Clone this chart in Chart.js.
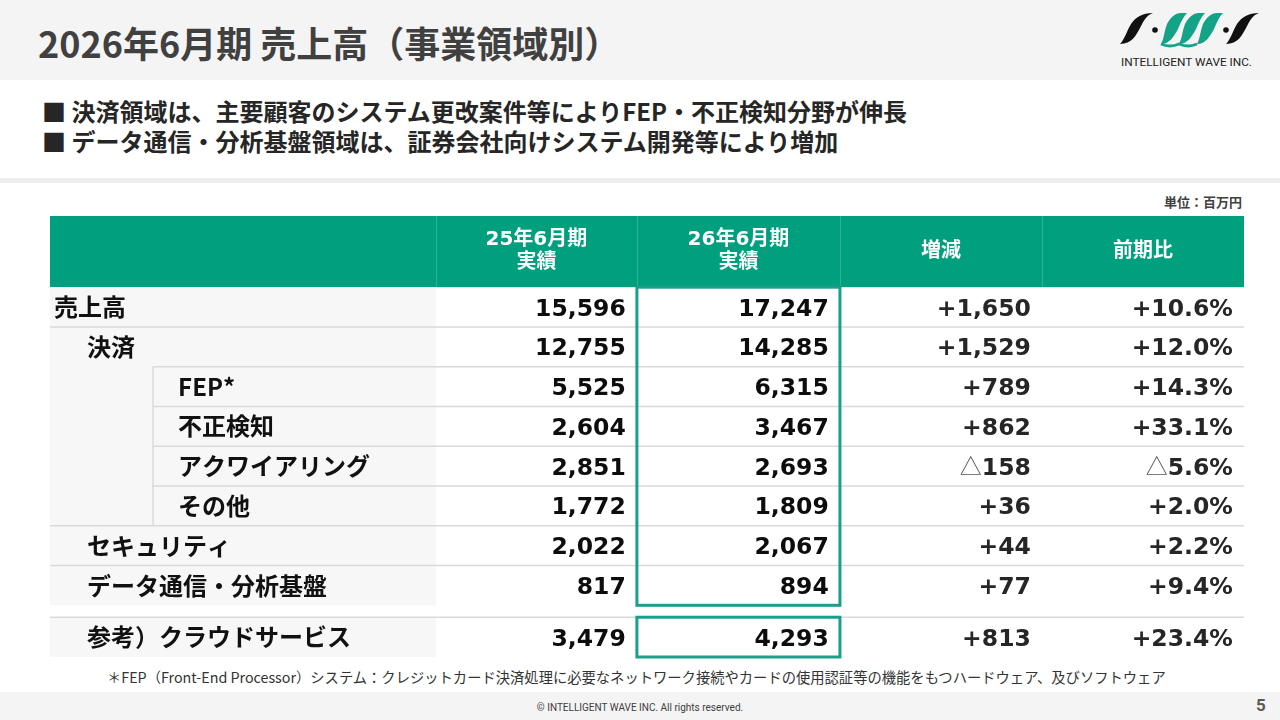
<!DOCTYPE html>
<html lang="ja">
<head>
<meta charset="utf-8">
<title>2026年6月期 売上高（事業領域別）</title>
<script src="https://cdn.jsdelivr.net/npm/chart.js@4.4.1/dist/chart.umd.min.js"></script>
<style>
    html, body { margin: 0; padding: 0; }
    body {
        width: 1280px; height: 720px; overflow: hidden; position: relative;
        background: #fff; font-family: "Noto Sans CJK JP", "Noto Sans", sans-serif;
    }
    .barra-titulo { position: absolute; left: 0; top: 0; width: 1280px; height: 80px; background: #f4f4f4; }
    .titulo { position: absolute; left: 38px; top: 20px; font-size: 36px; font-weight: bold; color: #404040; line-height: 44px; white-space: nowrap; }
    .logo { position: absolute; left: 1115px; top: 5px; width: 145px; height: 65px; }
    .puntos { position: absolute; left: 42px; top: 96px; font-size: 24px; font-weight: bold; color: #262626; line-height: 30px; white-space: nowrap; }
    .franja { position: absolute; left: 0; top: 178px; width: 1280px; height: 5px; background: #eeeeee; }
    .unidad { position: absolute; right: 38px; top: 193px; font-size: 13px; font-weight: bold; color: #404040; line-height: 18px; }
    .tabla-wrap { position: absolute; left: 44px; top: 210px; width: 1206px; height: 454px; }
    .nota { position: absolute; left: 107px; top: 667px; font-size: 14.3px; color: #333; line-height: 20px; white-space: nowrap; }
    .pie { position: absolute; left: 0; top: 692px; width: 1280px; height: 28px; background: #f4f4f4; }
    .copy { position: absolute; left: 0; width: 1280px; top: 701px; text-align: center; font-family: "Liberation Sans Narrow", "Roboto", sans-serif; font-size: 10px; color: #404040; line-height: 14px; }
    .pagina { position: absolute; left: 1256px; top: 695px; font-family: "Roboto", sans-serif; font-weight: bold; font-size: 17px; color: #595959; line-height: 20px; }
</style>
</head>
<body>

<div class="barra-titulo"></div>
<div class="titulo">2026年6月期 売上高（事業領域別）</div>

<!-- Logotipo aproximado -->
<svg class="logo" viewBox="0 0 145 65">
    <path id="trazo" d="M5 39 C17 39 21 30 25 23 C29 15 32 10 38 8 C27 8 21 12 16 19 C12 25 10 34 5 39 Z" fill="#111"/>
    <circle cx="40" cy="25" r="2.8" fill="#111"/>
    <g fill="#14a386">
        <path d="M46 39 C55 39 59 31 63 24 C66 17 68 12 72 8 L66 8 C60 8 56 12 52 19 C49 27 49 34 46 39 Z"/>
        <path d="M64 39 C73 39 77 31 81 24 C84 17 86 12 90 8 L84 8 C78 8 74 12 70 19 C67 27 67 34 64 39 Z"/>
        <path d="M82 39 C91 39 95 31 99 24 C102 17 104 12 108 8 L102 8 C96 8 92 12 88 19 C85 27 85 34 82 39 Z"/>
    </g>
    <path d="M46 39 Q55 43 64 39 Q73 43 82 39" fill="none" stroke="#14a386" stroke-width="3"/>
    <circle cx="111" cy="25" r="2.8" fill="#111"/>
    <use href="#trazo" transform="translate(106,0)"/>
    <text x="71.5" y="61" font-family="Liberation Sans Narrow, Roboto, sans-serif" font-size="10.5" fill="#222"
          text-anchor="middle" textLength="131" lengthAdjust="spacingAndGlyphs">INTELLIGENT WAVE INC.</text>
</svg>

<div class="puntos">
    <div>■ 決済領域は、主要顧客のシステム更改案件等によりFEP・不正検知分野が伸長</div>
    <div>■ データ通信・分析基盤領域は、証券会社向けシステム開発等により増加</div>
</div>
<div class="franja"></div>
<div class="unidad">単位：百万円</div>

<div class="tabla-wrap">
    <canvas id="tabla-ventas" width="1206" height="454"></canvas>
</div>

<div class="nota">＊FEP（Front-End Processor）システム：クレジットカード決済処理に必要なネットワーク接続やカードの使用認証等の機能をもつハードウェア、及びソフトウェア</div>
<div class="pie"></div>
<div class="copy">© INTELLIGENT WAVE INC. All rights reserved.</div>
<div class="pagina">5</div>

<script>
// ============================================================
// Datos de la tabla (百万円)
// ============================================================
const filas       = ['売上高', '決済', 'FEP*', '不正検知', 'アクワイアリング', 'その他', 'セキュリティ', 'データ通信・分析基盤', '参考）クラウドサービス'];
const nivelFila   = [0, 1, 2, 2, 2, 2, 1, 1, 1];   // sangría de cada fila
const cabeceras   = [['25年6月期', '実績'], ['26年6月期', '実績'], ['増減'], ['前期比']];
const ventas25    = [15596, 12755, 5525, 2604, 2851, 1772, 2022, 817, 3479];
const ventas26    = [17247, 14285, 6315, 3467, 2693, 1809, 2067, 894, 4293];
const variacion   = [1650, 1529, 789, 862, -158, 36, 44, 77, 813];
const variacionPct = [10.6, 12.0, 14.3, 33.1, -5.6, 2.0, 2.2, 9.4, 23.4];


// --- Geometría (en unidades de las escalas: 1 = ancho de una columna de números) ---
const bordesCol  = [0, 1.91, 2.905, 3.91, 4.91, 5.91];
const SANGRIA    = [0.02, 0.183, 0.634];
const SUB_LINEA  = 0.51;      // línea vertical del bloque de 決済
const MARGEN_DER = 0.055;
const ALTO_CAB   = 1.79;
const HUECO      = 0.3;       // espacio antes de la fila de referencia
const esReferencia = i => i === filas.length - 1;
const filaArriba   = i => esReferencia(i) ? ALTO_CAB + (filas.length - 1) + HUECO : ALTO_CAB + i;
const filaCentro   = i => filaArriba(i) + 0.5;
const ALTO_TABLA   = filaArriba(filas.length - 1) + 1;

const VERDE      = '#00a07f';
const VERDE_CAJA = '#1a9f8b';
const GRIS_FONDO = '#f7f7f7';
const GRIS_LINEA = '#d9d9d9';
const FUENTE_JP  = '"Noto Sans CJK JP", "Noto Sans", sans-serif';
const FUENTE_NUM = '"DejaVu Sans", Verdana, sans-serif';

const fmt = v => Math.abs(v).toLocaleString('en-US');
const textoVar = v => (v < 0 ? '△' : '+') + fmt(v);
const textoPct = v => (v < 0 ? '△' : '+') + Math.abs(v).toFixed(1) + '%';

// Cada columna es un dataset de puntos invisibles: la posición sale de las escalas
function columna(valores, c, aTexto, color) {
    return {
        data: valores.map((v, i) => ({ x: bordesCol[c + 1] - MARGEN_DER, y: filaCentro(i) })),
        textos: valores.map(aTexto),
        color: color,
        pointRadius: 0,
        pointHoverRadius: 0
    };
}

const datasets = [
    columna(ventas25, 1, fmt, '#0d0d0d'),
    columna(ventas26, 2, fmt, '#0d0d0d'),
    columna(variacion, 3, textoVar, '#262626'),
    columna(variacionPct, 4, textoPct, '#262626')
];


// --- Plugin que dibuja la cuadrícula y los textos ---
const pluginTabla = {
    id: 'tablaVentas',

    beforeDatasetsDraw(chart) {
        const { ctx, scales: { x, y } } = chart;
        const px = v => x.getPixelForValue(v);
        const py = v => y.getPixelForValue(v);
        const fin = bordesCol[bordesCol.length - 1];

        ctx.save();

        // Cabecera verde
        ctx.fillStyle = VERDE;
        ctx.fillRect(px(0), py(0), px(fin) - px(0), py(ALTO_CAB) - py(0));
        ctx.strokeStyle = 'rgba(255,255,255,0.18)';
        ctx.lineWidth = 1;
        for (let c = 1; c < bordesCol.length - 1; c++) {
            ctx.beginPath();
            ctx.moveTo(Math.round(px(bordesCol[c])) + 0.5, py(0));
            ctx.lineTo(Math.round(px(bordesCol[c])) + 0.5, py(ALTO_CAB));
            ctx.stroke();
        }

        // Fondo gris de la columna de nombres
        ctx.fillStyle = GRIS_FONDO;
        const ultimaNormal = filas.length - 2;
        ctx.fillRect(px(0), py(filaArriba(0)), px(bordesCol[1]) - px(0), py(filaArriba(ultimaNormal) + 1) - py(filaArriba(0)));
        const ref = filas.length - 1;
        ctx.fillRect(px(0), py(filaArriba(ref)), px(bordesCol[1]) - px(0), py(filaArriba(ref) + 1) - py(filaArriba(ref)));

        // Líneas horizontales entre filas
        ctx.strokeStyle = GRIS_LINEA;
        ctx.lineWidth = 1.5;
        filas.forEach((f, i) => {
            if (i === 0) return;
            const inicio = nivelFila[i] === 2 ? SUB_LINEA : 0;
            const yy = py(filaArriba(i));
            ctx.beginPath();
            ctx.moveTo(px(inicio), yy);
            ctx.lineTo(px(fin), yy);
            ctx.stroke();
        });

        // Línea vertical del bloque de subcategorías
        const sub = nivelFila.map((n, i) => n === 2 ? i : -1).filter(i => i >= 0);
        ctx.beginPath();
        ctx.moveTo(px(SUB_LINEA), py(filaArriba(sub[0])));
        ctx.lineTo(px(SUB_LINEA), py(filaArriba(sub[sub.length - 1]) + 1));
        ctx.stroke();

        // Cajas verdes de la columna 26年6月期
        ctx.strokeStyle = VERDE_CAJA;
        ctx.lineWidth = 3;
        ctx.strokeRect(px(bordesCol[2]), py(filaArriba(0)), px(bordesCol[3]) - px(bordesCol[2]), py(filaArriba(ultimaNormal) + 1) - py(filaArriba(0)));
        ctx.strokeRect(px(bordesCol[2]), py(filaArriba(ref)), px(bordesCol[3]) - px(bordesCol[2]), py(filaArriba(ref) + 1) - py(filaArriba(ref)));

        // Textos de cabecera (cifras en DejaVu, kanji en Noto)
        ctx.fillStyle = '#ffffff';
        ctx.font = 'bold 20px "DejaVu Sans", ' + FUENTE_JP;
        ctx.textAlign = 'center';
        ctx.textBaseline = 'middle';
        cabeceras.forEach((lineas, c) => {
            const cx = (px(bordesCol[c + 1]) + px(bordesCol[c + 2])) / 2;
            const cy = (py(0) + py(ALTO_CAB)) / 2;
            const paso = 23;
            lineas.forEach((t, k) => {
                ctx.fillText(t, cx, cy + (k - (lineas.length - 1) / 2) * paso);
            });
        });

        // Nombres de fila
        ctx.fillStyle = '#111111';
        ctx.font = 'bold 24px ' + FUENTE_JP;
        ctx.textAlign = 'left';
        filas.forEach((f, i) => {
            ctx.fillText(f, px(SANGRIA[nivelFila[i]]), py(filaCentro(i)));
        });

        ctx.restore();
    },

    afterDatasetsDraw(chart) {
        const { ctx } = chart;
        ctx.save();
        ctx.textAlign = 'right';
        ctx.textBaseline = 'alphabetic';
        chart.data.datasets.forEach((ds, d) => {
            const meta = chart.getDatasetMeta(d);
            meta.data.forEach((p, i) => {
                let t = ds.textos[i];
                const base = p.y + 8.5;
                ctx.fillStyle = ds.color;
                let triangulo = false;
                if (t.startsWith('△')) { t = t.slice(1); triangulo = true; }
                ctx.font = 'bold 23.5px ' + FUENTE_NUM;
                ctx.fillText(t, p.x, base);
                if (triangulo) {
                    const ancho = ctx.measureText(t).width;
                    ctx.font = '22px ' + FUENTE_JP;
                    ctx.fillStyle = '#555';
                    ctx.textBaseline = 'middle';
                    ctx.fillText('△', p.x - ancho, p.y);
                    ctx.textBaseline = 'alphabetic';
                }
            });
        });
        ctx.restore();
    }
};


// --- Inicialización ---
document.addEventListener('DOMContentLoaded', function() {
    const ctx = document.getElementById('tabla-ventas').getContext('2d');
    new Chart(ctx, {
        type: 'scatter',
        data: { datasets },
        options: {
            responsive: false,
            animation: false,
            events: [],
            layout: { padding: { left: 6, right: 6, top: 6, bottom: 7 } },
            scales: {
                x: { type: 'linear', min: 0, max: bordesCol[bordesCol.length - 1], display: false },
                y: { type: 'linear', min: 0, max: ALTO_TABLA, reverse: true, display: false }
            },
            plugins: { legend: { display: false }, tooltip: { enabled: false } }
        },
        plugins: [pluginTabla]
    });
});
</script>
</body>
</html>
